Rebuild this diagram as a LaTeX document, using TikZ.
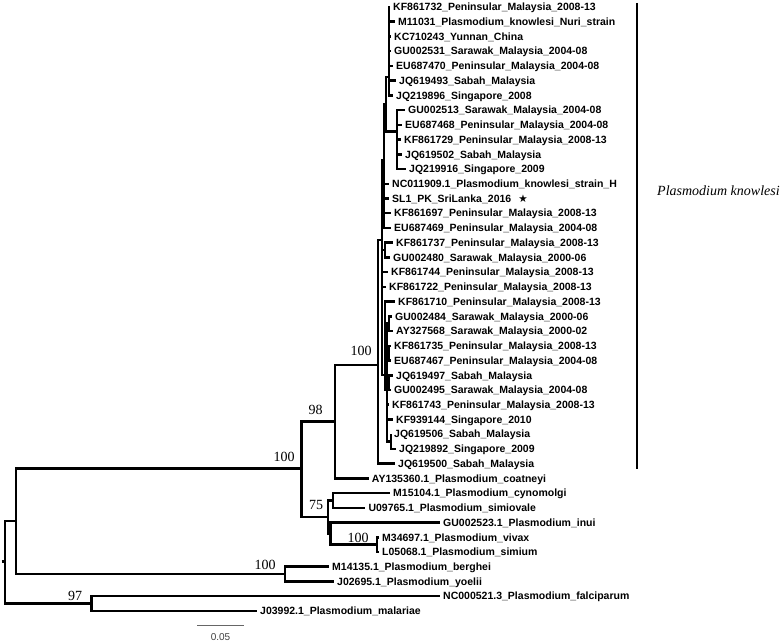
\documentclass[tikz,border=0pt]{standalone}
\usepackage{fontspec}
\setmainfont{Liberation Serif}
\setsansfont{Liberation Sans}
\newfontfamily\symfont{DejaVu Sans}
\tikzset{
  br/.style={line width=2.5pt, line join=miter},
  lbl/.style={anchor=west, inner sep=0pt, font=\sffamily\bfseries\fontsize{10.5}{12}\selectfont, text height=7.5pt, text depth=0pt},
  bs/.style={font=\fontsize{14}{16}\selectfont, inner sep=0pt, anchor=center},
}
\newcommand\leafnode[4]{%
  \coordinate (#1) at (#2,#3);
  \node[lbl] (#1-l) at ([xshift=3pt]#1) {#4};}
\begin{document}
\begin{tikzpicture}[x=1pt,y=-1pt]
\useasboundingbox (0,0) rectangle (784,642);
% leaves
\leafnode{k0}{390}{7.0}{KF861732\_Peninsular\_Malaysia\_2008-13}
\leafnode{k1}{395}{21.7}{M11031\_Plasmodium\_knowlesi\_Nuri\_strain}
\leafnode{k2}{391}{36.5}{KC710243\_Yunnan\_China}
\leafnode{k3}{391}{51.2}{GU002531\_Sarawak\_Malaysia\_2004-08}
\leafnode{k4}{393}{65.9}{EU687470\_Peninsular\_Malaysia\_2004-08}
\leafnode{k5}{396}{80.7}{JQ619493\_Sabah\_Malaysia}
\leafnode{k6}{393}{95.4}{JQ219896\_Singapore\_2008}
\leafnode{k7}{405}{110.1}{GU002513\_Sarawak\_Malaysia\_2004-08}
\leafnode{k8}{402}{124.8}{EU687468\_Peninsular\_Malaysia\_2004-08}
\leafnode{k9}{401}{139.6}{KF861729\_Peninsular\_Malaysia\_2008-13}
\leafnode{k10}{402}{154.3}{JQ619502\_Sabah\_Malaysia}
\leafnode{k11}{406}{169.0}{JQ219916\_Singapore\_2009}
\leafnode{k12}{389}{183.8}{NC011909.1\_Plasmodium\_knowlesi\_strain\_H}
\leafnode{k13}{389}{198.5}{SL1\_PK\_SriLanka\_2016\hspace{7pt}{\symfont\mdseries ★}}
\leafnode{k14}{391}{213.2}{KF861697\_Peninsular\_Malaysia\_2008-13}
\leafnode{k15}{391}{228.0}{EU687469\_Peninsular\_Malaysia\_2004-08}
\leafnode{k16}{393}{242.7}{KF861737\_Peninsular\_Malaysia\_2008-13}
\leafnode{k17}{390}{257.4}{GU002480\_Sarawak\_Malaysia\_2000-06}
\leafnode{k18}{388}{272.1}{KF861744\_Peninsular\_Malaysia\_2008-13}
\leafnode{k19}{386}{286.9}{KF861722\_Peninsular\_Malaysia\_2008-13}
\leafnode{k20}{395}{301.6}{KF861710\_Peninsular\_Malaysia\_2008-13}
\leafnode{k21}{392}{316.3}{GU002484\_Sarawak\_Malaysia\_2000-06}
\leafnode{k22}{393}{331.1}{AY327568\_Sarawak\_Malaysia\_2000-02}
\leafnode{k23}{391}{345.8}{KF861735\_Peninsular\_Malaysia\_2008-13}
\leafnode{k24}{391}{360.5}{EU687467\_Peninsular\_Malaysia\_2004-08}
\leafnode{k25}{393}{375.3}{JQ619497\_Sabah\_Malaysia}
\leafnode{k26}{391}{390.0}{GU002495\_Sarawak\_Malaysia\_2004-08}
\leafnode{k27}{389}{404.7}{KF861743\_Peninsular\_Malaysia\_2008-13}
\leafnode{k28}{393}{419.4}{KF939144\_Singapore\_2010}
\leafnode{k29}{391}{434.2}{JQ619506\_Sabah\_Malaysia}
\leafnode{k30}{396}{448.9}{JQ219892\_Singapore\_2009}
\leafnode{k31}{395}{463.6}{JQ619500\_Sabah\_Malaysia}
\leafnode{o32}{368.7}{478.4}{AY135360.1\_Plasmodium\_coatneyi}
\leafnode{o33}{390}{493.1}{M15104.1\_Plasmodium\_cynomolgi}
\leafnode{o34}{365.3}{507.8}{U09765.1\_Plasmodium\_simiovale}
\leafnode{o35}{440}{522.6}{GU002523.1\_Plasmodium\_inui}
\leafnode{o36}{379}{537.3}{M34697.1\_Plasmodium\_vivax}
\leafnode{o37}{379}{552.0}{L05068.1\_Plasmodium\_simium}
\leafnode{o38}{329}{566.7}{M14135.1\_Plasmodium\_berghei}
\leafnode{o39}{334}{581.5}{J02695.1\_Plasmodium\_yoelii}
\leafnode{o40}{440}{596.2}{NC000521.3\_Plasmodium\_falciparum}
\leafnode{o41}{257}{610.9}{J03992.1\_Plasmodium\_malariae}
% internal nodes
\coordinate (rs) at (1.5,561.7);
\coordinate (r0) at (5,561.7);
\coordinate (n1) at (16,521.2);
\coordinate (n97) at (91.7,603.55);
\coordinate (nIn) at (301.7,468.3);
\coordinate (nBer) at (285,574.1);
\coordinate (n98) at (335,421.7);
\coordinate (n75) at (328,517);
\coordinate (nCyn) at (333,500.5);
\coordinate (nSub) at (330.5,533.6);
\coordinate (nViv) at (377,544.65);
\coordinate (nK) at (378,365);
\coordinate (nA) at (382,240);
\coordinate (nU) at (384,160);
\coordinate (nT) at (386,104);
\coordinate (T1) at (389,77);
\coordinate (T2) at (397,131.7);
\coordinate (nKF) at (385,250);
\coordinate (nL) at (385,375);
\coordinate (nL2) at (387,390);
\coordinate (nGA) at (389,323.7);
\coordinate (nKE) at (389,353.2);
\coordinate (nJG) at (389,382.7);
\coordinate (nJ) at (391,441.5);
% branches
\draw[br] (rs) -- (r0);
\foreach \p/\c in {r0/n1, r0/n97, n1/nIn, n1/nBer, nIn/n98, nIn/n75,
  n98/nK, n98/o32, n75/nCyn, n75/nSub, nSub/o35, nSub/nViv,
  nCyn/o33, nCyn/o34, nViv/o36, nViv/o37, nBer/o38, nBer/o39,
  n97/o40, n97/o41, nK/nA, nK/k31,
  nA/nU, nA/nKF, nA/k18, nA/k19, nA/nL,
  nU/nT, nU/k12, nU/k13, nU/k14, nU/k15,
  nT/T1, nT/T2,
  T1/k0, T1/k1, T1/k2, T1/k3, T1/k4, T1/k5, T1/k6,
  T2/k7, T2/k8, T2/k9, T2/k10, T2/k11,
  nKF/k16, nKF/k17, nL/k20, nL/nL2,
  nL2/nGA, nL2/nKE, nL2/nJG, nL2/k27, nL2/k28, nL2/nJ,
  nGA/k21, nGA/k22, nKE/k23, nKE/k24, nJG/k25, nJG/k26, nJ/k29, nJ/k30}
  \draw[br] (\p) |- (\c);
% bootstrap values
\node[bs] (b1) at (284,457) {100};
\node[bs] (b2) at (315.5,410) {98};
\node[bs] (b3) at (361,351) {100};
\node[bs] (b4) at (316,505) {75};
\node[bs] (b5) at (358,537.5) {100};
\node[bs] (b6) at (265,565) {100};
\node[bs] (b7) at (75,595.5) {97};
% clade bar
\coordinate (kb1) at (637,3);
\coordinate (kb2) at (637,469);
\draw[line width=1.5pt] (kb1) -- (kb2);
\node[anchor=west, inner sep=0pt, font=\itshape\fontsize{14}{16}\selectfont] (kn) at (657,190.7) {Plasmodium knowlesi};
% scale bar
\coordinate (sb1) at (197,625.7);
\coordinate (sb2) at (244,625.7);
\draw[black!60, line width=1pt] (sb1) -- (sb2);
\node[font=\sffamily\fontsize{10}{12}\selectfont, text=black!75, inner sep=0pt] (sbl) at (220.5,637) {0.05};
\end{tikzpicture}
\end{document}
